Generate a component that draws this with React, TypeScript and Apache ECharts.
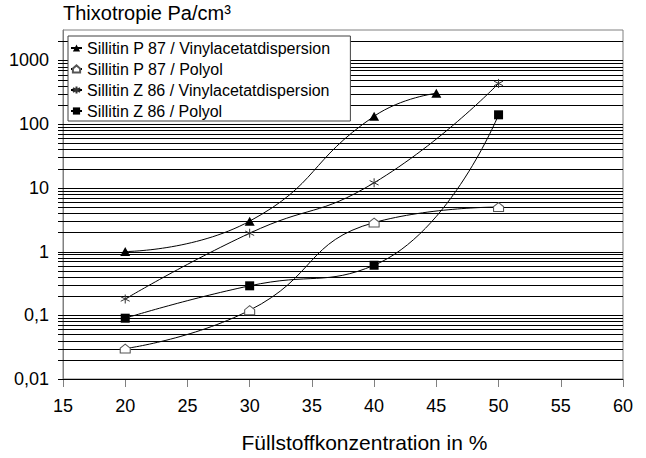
import React, { useEffect, useRef } from "react";
import * as echarts from "echarts";

// ---- data ----
const xP87Vinyl = [20, 30, 40, 45];
const yP87Vinyl = [1, 3, 133, 305];
const xOthers = [20, 30, 40, 50];
const yP87Polyol = [0.03, 0.12, 2.85, 5];
const yZ86Vinyl = [0.18, 1.94, 12, 435];
const yZ86Polyol = [0.09, 0.29, 0.61, 140];
const seriesNames = [
  "Sillitin P 87 / Vinylacetatdispersion",
  "Sillitin P 87 / Polyol",
  "Sillitin Z 86 / Vinylacetatdispersion",
  "Sillitin Z 86 / Polyol",
];
const yTitle = "Thixotropie Pa/cm³";
const xTitle = "Füllstoffkonzentration in %";
const decades = [0.01, 0.1, 1, 10, 100, 1000];
const multipliers = [1, 2, 3, 4, 5, 6, 7, 8, 9];

const FONT = "Liberation Sans, Arial, sans-serif";

export default function App() {
  const ref = useRef<HTMLDivElement>(null);
  useEffect(() => {
    if (!ref.current) return;
    const chart = echarts.init(ref.current, undefined, { renderer: "svg" });
    const gridValues: number[] = [];
    decades.forEach((d) =>
      multipliers.forEach((m) => {
        const v = +(d * m).toPrecision(6);
        if (v < 3000) gridValues.push(v);
      })
    );
    const pair = (xs: number[], ys: number[]) => xs.map((x, i) => [x, ys[i]]);
    const houseSymbol = "path://M0,4 L5,0 L10,4 L10,9 L0,9 Z";
    const starSymbol = "path://M5,0 L5,10 M0.7,2.5 L9.3,7.5 M0.7,7.5 L9.3,2.5";
    const lineBase = {
      type: "line",
      smooth: 0.5,
      lineStyle: { color: "#000", width: 1 },
      z: 5,
    };
    chart.setOption({
      animation: false,
      textStyle: { fontFamily: FONT },
      title: {
        text: yTitle,
        left: 63,
        top: 3,
        padding: 0,
        textStyle: { fontFamily: FONT, fontSize: 20, fontWeight: "normal", color: "#000" },
      },
      legend: {
        data: seriesNames,
        orient: "vertical",
        left: 68,
        top: 36,
        padding: [4, 20, 2, 2],
        itemGap: 5,
        itemWidth: 11,
        itemHeight: 9,
        backgroundColor: "#fff",
        borderColor: "#404040",
        borderWidth: 1,
        textStyle: { fontFamily: FONT, fontSize: 16, color: "#000" },
      },
      grid: {
        left: 63,
        right: 23,
        top: 30,
        bottom: 74,
        show: true,
        borderColor: "#808080",
        borderWidth: 1,
      },
      xAxis: {
        type: "value",
        min: 15,
        max: 60,
        interval: 5,
        name: xTitle,
        nameLocation: "middle",
        nameGap: 53,
        nameTextStyle: { fontFamily: FONT, fontSize: 21, color: "#000", padding: [0, 0, 0, 43] },
        axisLine: { show: true, lineStyle: { color: "#000", width: 1 } },
        axisTick: { show: true, inside: false, length: 8, lineStyle: { color: "#808080" } },
        axisLabel: { fontFamily: FONT, fontSize: 18, color: "#000", margin: 18 },
        splitLine: { show: false },
      },
      yAxis: {
        type: "log",
        logBase: 10,
        min: 0.01,
        max: 3000,
        axisLine: { show: true, lineStyle: { color: "#808080", width: 1 } },
        axisTick: { show: false },
        splitLine: { show: false },
        axisLabel: {
          fontFamily: FONT,
          fontSize: 18,
          color: "#000",
          margin: 14,
          formatter: (v: number) => {
            const l = Math.log10(v);
            if (Math.abs(l - Math.round(l)) > 1e-6) return "";
            return String(+v.toPrecision(6)).replace(".", ",");
          },
        },
      },
      series: [
        {
          type: "custom",
          silent: true,
          z: 1,
          clip: false,
          data: gridValues.map((v) => [15, v]),
          renderItem: (params: any, api: any) => {
            const v = api.value(1);
            const p0 = api.coord([15, v]);
            const p1 = api.coord([60, v]);
            const y = Math.round(p0[1]) + 0.5;
            return {
              type: "line",
              shape: { x1: p0[0] - 5, y1: y, x2: p1[0], y2: y },
              style: { stroke: "#000", lineWidth: 1 },
            };
          },
        },
        {
          ...lineBase,
          name: seriesNames[0],
          data: pair(xP87Vinyl, yP87Vinyl),
          symbol: "triangle",
          symbolSize: [10, 9],
          itemStyle: { color: "#000" },
        },
        {
          ...lineBase,
          name: seriesNames[1],
          data: pair(xOthers, yP87Polyol),
          symbol: houseSymbol,
          symbolSize: [10, 9],
          itemStyle: { color: "#fff", borderColor: "#555", borderWidth: 1 },
        },
        {
          ...lineBase,
          name: seriesNames[2],
          data: pair(xOthers, yZ86Vinyl),
          symbol: starSymbol,
          symbolSize: 9,
          itemStyle: { color: "none", borderColor: "#333", borderWidth: 1 },
        },
        {
          ...lineBase,
          name: seriesNames[3],
          data: pair(xOthers, yZ86Polyol),
          symbol: "rect",
          symbolSize: 9,
          itemStyle: { color: "#000" },
        },
      ],
    });
    return () => chart.dispose();
  }, []);
  return (
    <div
      ref={ref}
      style={{ position: "fixed", left: 0, top: 0, width: 646, height: 458, background: "#fff" }}
    />
  );
}
